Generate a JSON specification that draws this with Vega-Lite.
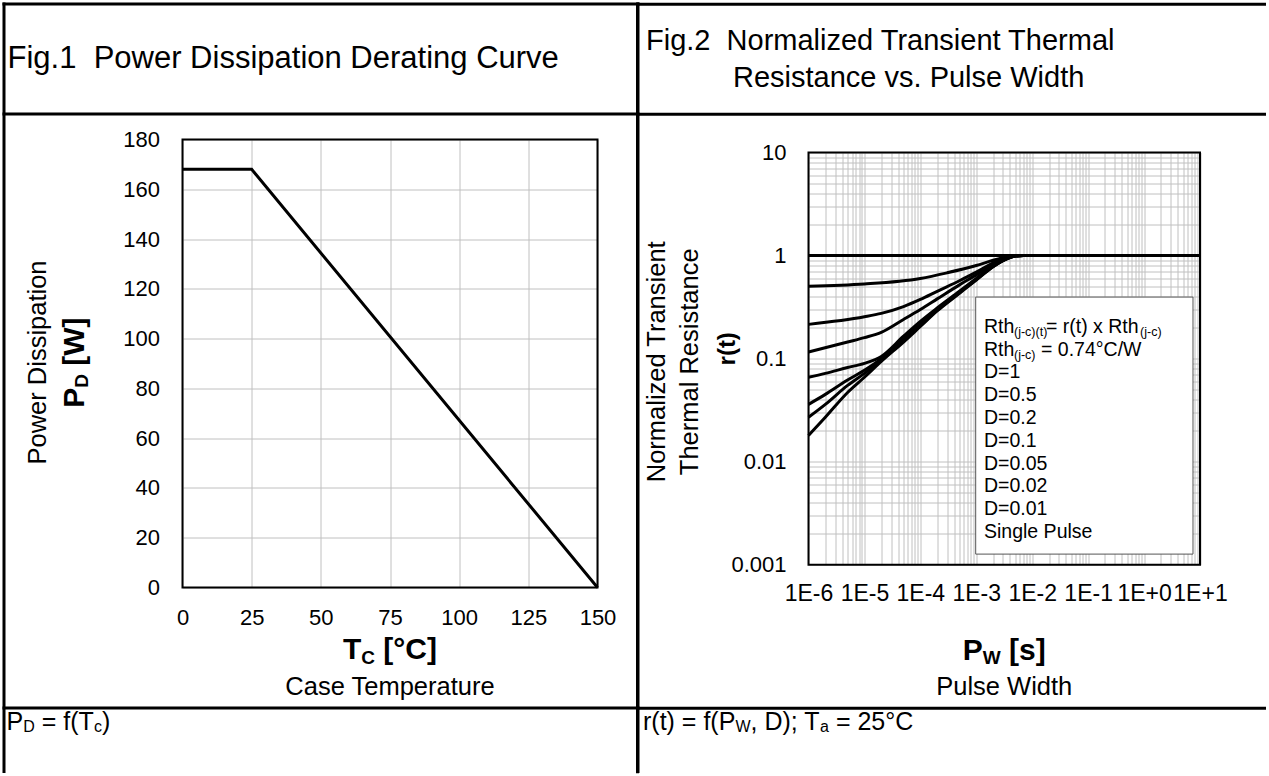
{
  "$schema": "https://vega.github.io/schema/vega-lite/v6.json",
  "background": "white",
  "padding": {"left": 1.5, "top": 1.5, "right": 0, "bottom": 0},
  "spacing": -6,
  "config": {
    "font": "Liberation Sans",
    "view": {"stroke": null},
    "text": {"color": "black"},
    "axis": {"grid": true, "gridColor": "#c0c0c0", "gridWidth": 1, "gridOpacity": 1, "ticks": false, "tickSize": 0, "domain": false, "labelFontSize": 22, "labelColor": "black", "labelFlush": false, "labelOverlap": false}
  },
  "hconcat": [
    {
      "width": 415,
      "height": 448,
      "data": {"values": [{}]},
      "layer": [
        {
          "data": {"values": [{"Tc": 0, "Pd": 168}, {"Tc": 25, "Pd": 168}, {"Tc": 150, "Pd": 0}]},
          "mark": {"type": "line", "color": "black", "strokeWidth": 3},
          "encoding": {
            "x": {"field": "Tc", "type": "quantitative", "scale": {"domain": [0, 150], "nice": false, "zero": false}, "axis": {"values": [0, 25, 50, 75, 100, 125, 150], "title": null, "labelPadding": 20}},
            "y": {"field": "Pd", "type": "quantitative", "scale": {"domain": [0, 180], "nice": false, "zero": false}, "axis": {"values": [0, 20, 40, 60, 80, 100, 120, 140, 160, 180], "title": null, "labelPadding": 23}}
          }
        },
        {"mark": {"type": "rect", "fill": "transparent", "stroke": "black", "strokeWidth": 2}, "encoding": {"x": {"datum": 0}, "x2": {"datum": 150}, "y": {"datum": 0}, "y2": {"datum": 180}}},
        {"mark": {"type": "rule", "color": "black", "strokeWidth": 3, "strokeCap": "square", "clip": false}, "encoding": {"x": {"datum": -64.518}, "y": {"datum": 234.44}, "y2": {"datum": -73.93}}},
        {"mark": {"type": "rule", "color": "black", "strokeWidth": 3, "strokeCap": "square", "clip": false}, "encoding": {"x": {"datum": -64.518}, "x2": {"datum": 164.64}, "y": {"datum": 234.44}}},
        {"mark": {"type": "rule", "color": "black", "strokeWidth": 3, "strokeCap": "square", "clip": false}, "encoding": {"x": {"datum": -64.518}, "x2": {"datum": 164.64}, "y": {"datum": 190.25}}},
        {"mark": {"type": "rule", "color": "black", "strokeWidth": 3, "strokeCap": "square", "clip": false}, "encoding": {"x": {"datum": -64.518}, "x2": {"datum": 164.64}, "y": {"datum": -48.42}}},
        {"mark": {"type": "rule", "color": "black", "strokeWidth": 3, "strokeCap": "square", "clip": false}, "encoding": {"x": {"datum": 164.64}, "y": {"datum": 234.44}, "y2": {"datum": -73.93}}},
        {"mark": {"type": "text", "text": "Fig.1\u00a0 Power Dissipation Derating Curve", "fontSize": 31, "align": "left", "baseline": "middle"}, "encoding": {"x": {"datum": -63.253}, "y": {"datum": 212.34}}},
        {"mark": {"type": "text", "text": "Power Dissipation", "fontSize": 25.5, "angle": 270, "align": "center", "baseline": "middle"}, "encoding": {"x": {"datum": -52.23}, "y": {"datum": 90.4}}},
        {"mark": {"type": "text", "text": "P", "fontSize": 30, "fontWeight": "bold", "angle": 270, "align": "left", "baseline": "middle"}, "encoding": {"x": {"datum": -38.675}, "y": {"datum": 72.24}}},
        {"mark": {"type": "text", "text": "D", "fontSize": 19, "fontWeight": "bold", "angle": 270, "align": "left", "baseline": "middle"}, "encoding": {"x": {"datum": -36.145}, "y": {"datum": 80.28}}},
        {"mark": {"type": "text", "text": "[W]", "fontSize": 30, "fontWeight": "bold", "angle": 270, "align": "left", "baseline": "middle"}, "encoding": {"x": {"datum": -38.675}, "y": {"datum": 89.12}}},
        {"mark": {"type": "text", "text": "T", "fontSize": 30, "fontWeight": "bold", "align": "left", "baseline": "middle"}, "encoding": {"x": {"datum": 58.01}, "y": {"datum": -25.31}}},
        {"mark": {"type": "text", "text": "C", "fontSize": 19, "fontWeight": "bold", "align": "left", "baseline": "middle"}, "encoding": {"x": {"datum": 64.63}, "y": {"datum": -28.13}}},
        {"mark": {"type": "text", "text": "[°C]", "fontSize": 30, "fontWeight": "bold", "align": "left", "baseline": "middle"}, "encoding": {"x": {"datum": 72.58}, "y": {"datum": -25.31}}},
        {"mark": {"type": "text", "text": "Case Temperature", "fontSize": 25.5, "align": "center", "baseline": "middle"}, "encoding": {"x": {"datum": 75}, "y": {"datum": -39.78}}},
        {"mark": {"type": "text", "text": "P", "fontSize": 25, "align": "left", "baseline": "middle"}, "encoding": {"x": {"datum": -63.614}, "y": {"datum": -53.84}}},
        {"mark": {"type": "text", "text": "D", "fontSize": 16, "align": "left", "baseline": "middle"}, "encoding": {"x": {"datum": -57.578}, "y": {"datum": -55.85}}},
        {"mark": {"type": "text", "text": "= f(T", "fontSize": 25, "align": "left", "baseline": "middle"}, "encoding": {"x": {"datum": -50.855}, "y": {"datum": -53.84}}},
        {"mark": {"type": "text", "text": "c", "fontSize": 16, "align": "left", "baseline": "middle"}, "encoding": {"x": {"datum": -32.024}, "y": {"datum": -55.85}}},
        {"mark": {"type": "text", "text": ")", "fontSize": 25, "align": "left", "baseline": "middle"}, "encoding": {"x": {"datum": -29.133}, "y": {"datum": -53.84}}}
      ]
    },
    {
      "vconcat": [
        {"width": 391.5, "height": 12.7, "data": {"values": []}, "mark": {"type": "point"}},
        {
          "width": 391.5,
          "height": 412.3,
          "data": {"values": [{}]},
          "layer": [
            {
              "data": {"values": [
                {"t": 1e-6, "r": 1, "s": "D=1"}, {"t": 10, "r": 1, "s": "D=1"},
                {"t": 1e-6, "r": 0.505, "s": "D=0.5"}, {"t": 1e-5, "r": 0.53, "s": "D=0.5"}, {"t": 1e-4, "r": 0.6, "s": "D=0.5"}, {"t": 3e-4, "r": 0.68, "s": "D=0.5"}, {"t": 1e-3, "r": 0.8, "s": "D=0.5"}, {"t": 2e-3, "r": 0.9, "s": "D=0.5"}, {"t": 3.5e-3, "r": 0.97, "s": "D=0.5"}, {"t": 5e-3, "r": 1, "s": "D=0.5"}, {"t": 10, "r": 1, "s": "D=0.5"},
                {"t": 1e-6, "r": 0.215, "s": "D=0.2"}, {"t": 1e-5, "r": 0.255, "s": "D=0.2"}, {"t": 2e-5, "r": 0.275, "s": "D=0.2"}, {"t": 5e-5, "r": 0.32, "s": "D=0.2"}, {"t": 1e-4, "r": 0.375, "s": "D=0.2"}, {"t": 2e-4, "r": 0.45, "s": "D=0.2"}, {"t": 5e-4, "r": 0.57, "s": "D=0.2"}, {"t": 1e-3, "r": 0.69, "s": "D=0.2"}, {"t": 2e-3, "r": 0.85, "s": "D=0.2"}, {"t": 3.5e-3, "r": 0.96, "s": "D=0.2"}, {"t": 5e-3, "r": 1, "s": "D=0.2"}, {"t": 10, "r": 1, "s": "D=0.2"},
                {"t": 1e-6, "r": 0.116, "s": "D=0.1"}, {"t": 5e-6, "r": 0.145, "s": "D=0.1"}, {"t": 1e-5, "r": 0.16, "s": "D=0.1"}, {"t": 2e-5, "r": 0.18, "s": "D=0.1"}, {"t": 5e-5, "r": 0.24, "s": "D=0.1"}, {"t": 1e-4, "r": 0.3, "s": "D=0.1"}, {"t": 2e-4, "r": 0.38, "s": "D=0.1"}, {"t": 5e-4, "r": 0.52, "s": "D=0.1"}, {"t": 1e-3, "r": 0.65, "s": "D=0.1"}, {"t": 2e-3, "r": 0.83, "s": "D=0.1"}, {"t": 3.5e-3, "r": 0.95, "s": "D=0.1"}, {"t": 5e-3, "r": 1, "s": "D=0.1"}, {"t": 10, "r": 1, "s": "D=0.1"},
                {"t": 1e-6, "r": 0.066, "s": "D=0.05"}, {"t": 2e-6, "r": 0.072, "s": "D=0.05"}, {"t": 5e-6, "r": 0.082, "s": "D=0.05"}, {"t": 1e-5, "r": 0.09, "s": "D=0.05"}, {"t": 2e-5, "r": 0.105, "s": "D=0.05"}, {"t": 5e-5, "r": 0.165, "s": "D=0.05"}, {"t": 1e-4, "r": 0.23, "s": "D=0.05"}, {"t": 2e-4, "r": 0.31, "s": "D=0.05"}, {"t": 5e-4, "r": 0.45, "s": "D=0.05"}, {"t": 1e-3, "r": 0.6, "s": "D=0.05"}, {"t": 2e-3, "r": 0.8, "s": "D=0.05"}, {"t": 3.5e-3, "r": 0.94, "s": "D=0.05"}, {"t": 5e-3, "r": 0.99, "s": "D=0.05"}, {"t": 7e-3, "r": 1, "s": "D=0.05"}, {"t": 10, "r": 1, "s": "D=0.05"},
                {"t": 1e-6, "r": 0.036, "s": "D=0.02"}, {"t": 2e-6, "r": 0.045, "s": "D=0.02"}, {"t": 5e-6, "r": 0.062, "s": "D=0.02"}, {"t": 1e-5, "r": 0.077, "s": "D=0.02"}, {"t": 2e-5, "r": 0.1, "s": "D=0.02"}, {"t": 5e-5, "r": 0.155, "s": "D=0.02"}, {"t": 1e-4, "r": 0.215, "s": "D=0.02"}, {"t": 2e-4, "r": 0.3, "s": "D=0.02"}, {"t": 5e-4, "r": 0.44, "s": "D=0.02"}, {"t": 1e-3, "r": 0.59, "s": "D=0.02"}, {"t": 2e-3, "r": 0.79, "s": "D=0.02"}, {"t": 3.5e-3, "r": 0.93, "s": "D=0.02"}, {"t": 5e-3, "r": 0.99, "s": "D=0.02"}, {"t": 7e-3, "r": 1, "s": "D=0.02"}, {"t": 10, "r": 1, "s": "D=0.02"},
                {"t": 1e-6, "r": 0.027, "s": "D=0.01"}, {"t": 2e-6, "r": 0.036, "s": "D=0.01"}, {"t": 5e-6, "r": 0.055, "s": "D=0.01"}, {"t": 1e-5, "r": 0.072, "s": "D=0.01"}, {"t": 2e-5, "r": 0.097, "s": "D=0.01"}, {"t": 5e-5, "r": 0.15, "s": "D=0.01"}, {"t": 1e-4, "r": 0.21, "s": "D=0.01"}, {"t": 2e-4, "r": 0.295, "s": "D=0.01"}, {"t": 5e-4, "r": 0.435, "s": "D=0.01"}, {"t": 1e-3, "r": 0.585, "s": "D=0.01"}, {"t": 2e-3, "r": 0.785, "s": "D=0.01"}, {"t": 3.5e-3, "r": 0.93, "s": "D=0.01"}, {"t": 5e-3, "r": 0.99, "s": "D=0.01"}, {"t": 7e-3, "r": 1, "s": "D=0.01"}, {"t": 10, "r": 1, "s": "D=0.01"},
                {"t": 1e-6, "r": 0.018, "s": "Single Pulse"}, {"t": 2e-6, "r": 0.027, "s": "Single Pulse"}, {"t": 5e-6, "r": 0.047, "s": "Single Pulse"}, {"t": 1e-5, "r": 0.066, "s": "Single Pulse"}, {"t": 2e-5, "r": 0.094, "s": "Single Pulse"}, {"t": 5e-5, "r": 0.145, "s": "Single Pulse"}, {"t": 1e-4, "r": 0.205, "s": "Single Pulse"}, {"t": 2e-4, "r": 0.29, "s": "Single Pulse"}, {"t": 5e-4, "r": 0.43, "s": "Single Pulse"}, {"t": 1e-3, "r": 0.58, "s": "Single Pulse"}, {"t": 2e-3, "r": 0.78, "s": "Single Pulse"}, {"t": 3.5e-3, "r": 0.93, "s": "Single Pulse"}, {"t": 5e-3, "r": 0.99, "s": "Single Pulse"}, {"t": 7e-3, "r": 1, "s": "Single Pulse"}, {"t": 10, "r": 1, "s": "Single Pulse"}
              ]},
              "mark": {"type": "line", "strokeWidth": 3, "interpolate": "monotone"},
              "encoding": {
                "x": {"field": "t", "type": "quantitative", "scale": {"type": "log", "domain": [1e-6, 10], "nice": false}, "axis": {"title": null, "labelPadding": 17.5, "labelFontSize": 23, "values": [1e-6, 2e-6, 3e-6, 4e-6, 5e-6, 6e-6, 7e-6, 8e-6, 9e-6, 1e-5, 2e-5, 3e-5, 4e-5, 5e-5, 6e-5, 7e-5, 8e-5, 9e-5, 1e-4, 2e-4, 3e-4, 4e-4, 5e-4, 6e-4, 7e-4, 8e-4, 9e-4, 0.001, 0.002, 0.003, 0.004, 0.005, 0.006, 0.007, 0.008, 0.009, 0.01, 0.02, 0.03, 0.04, 0.05, 0.06, 0.07, 0.08, 0.09, 0.1, 0.2, 0.3, 0.4, 0.5, 0.6, 0.7, 0.8, 0.9, 1, 2, 3, 4, 5, 6, 7, 8, 9, 10], "labelExpr": "abs(log(datum.value)/LN10 - round(log(datum.value)/LN10)) < 0.001 ? '1E' + (datum.value >= 1 ? '+' : '') + round(log(datum.value)/LN10) : ''"}},
                "y": {"field": "r", "type": "quantitative", "scale": {"type": "log", "domain": [0.001, 10], "nice": false}, "axis": {"title": null, "labelPadding": 22.5, "values": [0.001, 0.002, 0.003, 0.004, 0.005, 0.006, 0.007, 0.008, 0.009, 0.01, 0.02, 0.03, 0.04, 0.05, 0.06, 0.07, 0.08, 0.09, 0.1, 0.2, 0.3, 0.4, 0.5, 0.6, 0.7, 0.8, 0.9, 1, 2, 3, 4, 5, 6, 7, 8, 9, 10], "labelExpr": "abs(log(datum.value)/LN10 - round(log(datum.value)/LN10)) < 0.001 ? datum.value + '' : ''"}},
                "color": {"field": "s", "type": "nominal", "scale": {"domain": ["D=1", "D=0.5", "D=0.2", "D=0.1", "D=0.05", "D=0.02", "D=0.01", "Single Pulse"], "range": ["black", "black", "black", "black", "black", "black", "black", "black"]}, "legend": null}
              }
            },
            {"mark": {"type": "rect", "fill": "white", "stroke": "#555555", "strokeWidth": 1}, "encoding": {"x": {"datum": 9.761e-4}, "x2": {"datum": 7.4947}, "y": {"datum": 0.39555}, "y2": {"datum": 0.00127}}},
            {"mark": {"type": "rect", "fill": "transparent", "stroke": "black", "strokeWidth": 2}, "encoding": {"x": {"datum": 1e-6}, "x2": {"datum": 10}, "y": {"datum": 0.001}, "y2": {"datum": 10}}},
            {"mark": {"type": "rule", "color": "black", "strokeWidth": 3, "strokeCap": "square", "clip": false}, "encoding": {"x": {"datum": 8.76e-10}, "y": {"datum": 274.07}, "y2": {"datum": 9.812e-6}}},
            {"mark": {"type": "rule", "color": "black", "strokeWidth": 3, "strokeCap": "square", "clip": false}, "encoding": {"x": {"datum": 8.76e-10}, "x2": {"datum": 142.31}, "y": {"datum": 274.07}}},
            {"mark": {"type": "rule", "color": "black", "strokeWidth": 3, "strokeCap": "square", "clip": false}, "encoding": {"x": {"datum": 8.76e-10}, "x2": {"datum": 142.31}, "y": {"datum": 23.474}}},
            {"mark": {"type": "rule", "color": "black", "strokeWidth": 3, "strokeCap": "square", "clip": false}, "encoding": {"x": {"datum": 8.76e-10}, "x2": {"datum": 142.31}, "y": {"datum": 4.0529e-5}}},
            {"mark": {"type": "text", "text": "Fig.2\u00a0 Normalized Transient Thermal", "fontSize": 29, "align": "left", "baseline": "middle"}, "encoding": {"x": {"datum": 1.2429e-9}, "y": {"datum": 121.25}}},
            {"mark": {"type": "text", "text": "Resistance vs. Pulse Width", "fontSize": 29, "align": "left", "baseline": "middle"}, "encoding": {"x": {"datum": 4.4676e-8}, "y": {"datum": 53.04}}},
            {"mark": {"type": "text", "text": "Normalized Transient", "fontSize": 25.5, "angle": 270, "align": "center", "baseline": "middle"}, "encoding": {"x": {"datum": 1.9549e-9}, "y": {"datum": 0.093205}}},
            {"mark": {"type": "text", "text": "Thermal Resistance", "fontSize": 25.5, "angle": 270, "align": "center", "baseline": "middle"}, "encoding": {"x": {"datum": 7.6045e-9}, "y": {"datum": 0.093205}}},
            {"mark": {"type": "text", "text": "r(t)", "fontSize": 24, "fontWeight": "bold", "angle": 270, "align": "center", "baseline": "middle"}, "encoding": {"x": {"datum": 3.6363e-8}, "y": {"datum": 0.12462}}},
            {"mark": {"type": "text", "text": "P", "fontSize": 30, "fontWeight": "bold", "align": "left", "baseline": "middle"}, "encoding": {"x": {"datum": 5.7399e-4}, "y": {"datum": 1.4642e-4}}},
            {"mark": {"type": "text", "text": "W", "fontSize": 19, "fontWeight": "bold", "align": "left", "baseline": "middle"}, "encoding": {"x": {"datum": 1.3076e-3}, "y": {"datum": 1.2524e-4}}},
            {"mark": {"type": "text", "text": "[s]", "fontSize": 30, "fontWeight": "bold", "align": "left", "baseline": "middle"}, "encoding": {"x": {"datum": 3.845e-3}, "y": {"datum": 1.4642e-4}}},
            {"mark": {"type": "text", "text": "Pulse Width", "fontSize": 25.5, "align": "center", "baseline": "middle"}, "encoding": {"x": {"datum": 3.162e-3}, "y": {"datum": 6.5524e-5}}},
            {"mark": {"type": "text", "text": "Rth", "fontSize": 19.5, "align": "left", "baseline": "middle"}, "encoding": {"x": {"datum": 1.3739e-3}, "y": {"datum": 0.2037}}},
            {"mark": {"type": "text", "text": "(j-c)(t)", "fontSize": 12.5, "align": "left", "baseline": "middle"}, "encoding": {"x": {"datum": 4.7247e-3}, "y": {"datum": 0.18221}}},
            {"mark": {"type": "text", "text": "= r(t) x Rth", "fontSize": 19.5, "align": "left", "baseline": "middle"}, "encoding": {"x": {"datum": 0.017633}, "y": {"datum": 0.2037}}},
            {"mark": {"type": "text", "text": "(j-c)", "fontSize": 12.5, "align": "left", "baseline": "middle"}, "encoding": {"x": {"datum": 0.85}, "y": {"datum": 0.18221}}},
            {"mark": {"type": "text", "text": "Rth", "fontSize": 19.5, "align": "left", "baseline": "middle"}, "encoding": {"x": {"datum": 1.3739e-3}, "y": {"datum": 0.12242}}},
            {"mark": {"type": "text", "text": "(j-c)", "fontSize": 12.5, "align": "left", "baseline": "middle"}, "encoding": {"x": {"datum": 4.7247e-3}, "y": {"datum": 0.1095}}},
            {"mark": {"type": "text", "text": "= 0.74°C/W", "fontSize": 19.5, "align": "left", "baseline": "middle"}, "encoding": {"x": {"datum": 0.014358}, "y": {"datum": 0.12242}}},
            {"mark": {"type": "text", "text": "D=1", "fontSize": 19.5, "align": "left", "baseline": "middle"}, "encoding": {"x": {"datum": 1.3739e-3}, "y": {"datum": 0.073547}}},
            {"mark": {"type": "text", "text": "D=0.5", "fontSize": 19.5, "align": "left", "baseline": "middle"}, "encoding": {"x": {"datum": 1.3739e-3}, "y": {"datum": 0.044194}}},
            {"mark": {"type": "text", "text": "D=0.2", "fontSize": 19.5, "align": "left", "baseline": "middle"}, "encoding": {"x": {"datum": 1.3739e-3}, "y": {"datum": 0.026559}}},
            {"mark": {"type": "text", "text": "D=0.1", "fontSize": 19.5, "align": "left", "baseline": "middle"}, "encoding": {"x": {"datum": 1.3739e-3}, "y": {"datum": 0.015958}}},
            {"mark": {"type": "text", "text": "D=0.05", "fontSize": 19.5, "align": "left", "baseline": "middle"}, "encoding": {"x": {"datum": 1.3739e-3}, "y": {"datum": 0.0095897}}},
            {"mark": {"type": "text", "text": "D=0.02", "fontSize": 19.5, "align": "left", "baseline": "middle"}, "encoding": {"x": {"datum": 1.3739e-3}, "y": {"datum": 0.0057624}}},
            {"mark": {"type": "text", "text": "D=0.01", "fontSize": 19.5, "align": "left", "baseline": "middle"}, "encoding": {"x": {"datum": 1.3739e-3}, "y": {"datum": 0.0034627}}},
            {"mark": {"type": "text", "text": "Single Pulse", "fontSize": 19.5, "align": "left", "baseline": "middle"}, "encoding": {"x": {"datum": 1.3739e-3}, "y": {"datum": 0.0020807}}},
            {"mark": {"type": "text", "text": "r(t) = f(P", "fontSize": 25, "align": "left", "baseline": "middle"}, "encoding": {"x": {"datum": 1.0988e-9}, "y": {"datum": 2.9981e-5}}},
            {"mark": {"type": "text", "text": "W", "fontSize": 16, "align": "left", "baseline": "middle"}, "encoding": {"x": {"datum": 4.9317e-8}, "y": {"datum": 2.6818e-5}}},
            {"mark": {"type": "text", "text": ", D); T", "fontSize": 25, "align": "left", "baseline": "middle"}, "encoding": {"x": {"datum": 9.1834e-8}, "y": {"datum": 2.9981e-5}}},
            {"mark": {"type": "text", "text": "a", "fontSize": 16, "align": "left", "baseline": "middle"}, "encoding": {"x": {"datum": 1.6056e-6}, "y": {"datum": 2.6818e-5}}},
            {"mark": {"type": "text", "text": "= 25°C", "fontSize": 25, "align": "left", "baseline": "middle"}, "encoding": {"x": {"datum": 3.0895e-6}, "y": {"datum": 2.9981e-5}}}
          ]
        }
      ],
      "spacing": 0,
      "bounds": "flush"
    }
  ]
}
